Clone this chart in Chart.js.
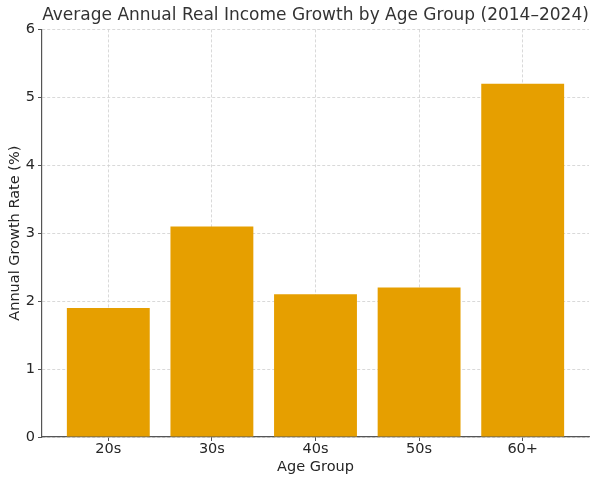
<!DOCTYPE html>
<html>
<head>
<meta charset="utf-8">
<script src="https://cdn.jsdelivr.net/npm/chart.js@4/dist/chart.umd.min.js"></script>
<style>
  html, body { margin: 0; padding: 0; background: #fff; }
  #wrap { width: 600px; height: 484px; }
</style>
</head>
<body>
<div id="wrap"><canvas id="growth-chart" width="600" height="484"></canvas></div>
<script>
// Data
const ageGroups = ["20s", "30s", "40s", "50s", "60+"];
const growthRates = [1.9, 3.1, 2.1, 2.2, 5.2];
const yTicks = [0, 1, 2, 3, 4, 5, 6];

const font = "'DejaVu Sans', sans-serif";
const textColor = "#262626";
const gridColor = "#cfcfcf";
const spineColor = "#555";

new Chart(document.getElementById("growth-chart"), {
  type: "bar",
  data: {
    datasets: [
      {
        data: growthRates.map((v, i) => ({ x: i, y: v })),
        backgroundColor: "#E69F00",
        borderWidth: 0,
        categoryPercentage: 1,
        barPercentage: 0.8,
      },
    ],
  },
  options: {
    responsive: false,
    animation: false,
    layout: {
      padding: { left: 0, right: 11, top: 0, bottom: 0 },
    },
    plugins: {
      legend: { display: false },
      tooltip: { enabled: false },
      title: {
        display: true,
        fullSize: false,
        text: "Average Annual Real Income Growth by Age Group (2014–2024)",
        color: "#333",
        font: { family: font, size: 17, weight: "normal" },
        padding: { top: 5, bottom: 4 },
      },
    },
    scales: {
      x: {
        type: "linear",
        min: -0.64,
        max: 4.64,
        offset: false,
        z: 1,
        afterBuildTicks: (scale) => {
          scale.ticks = ageGroups.map((c, i) => ({ value: i }));
        },
        afterFit: (scale) => {
          scale.height = 47;
        },
        ticks: {
          color: textColor,
          font: { family: font, size: 14.5 },
          padding: 0,
          autoSkip: false,
          maxRotation: 0,
          callback: (value) => ageGroups[value],
        },
        grid: {
          offset: false,
          color: gridColor,
          lineWidth: 0.8,
          tickLength: 4,
          tickColor: spineColor,
          tickBorderDash: [],
          tickWidth: 1,
        },
        border: { display: true, color: spineColor, width: 1.2, dash: [3, 2] },
        title: {
          display: true,
          text: "Age Group",
          color: textColor,
          font: { family: font, size: 14.5 },
          padding: { top: 0, bottom: 8 },
        },
      },
      y: {
        min: 0,
        max: 6,
        z: 1,
        afterBuildTicks: (scale) => {
          scale.ticks = yTicks.map((v) => ({ value: v }));
        },
        afterFit: (scale) => {
          scale.width = 42;
        },
        ticks: {
          color: textColor,
          font: { family: font, size: 14.5 },
          padding: 3,
        },
        grid: {
          color: gridColor,
          lineWidth: 0.8,
          tickLength: 4,
          tickColor: spineColor,
          tickBorderDash: [],
          tickWidth: 1,
        },
        border: { display: true, color: spineColor, width: 1.2, dash: [3, 2] },
        title: {
          display: true,
          text: "Annual Growth Rate (%)",
          color: textColor,
          font: { family: font, size: 14.5 },
          padding: { top: 7, bottom: 0 },
        },
      },
    },
  },
});
</script>
</body>
</html>
